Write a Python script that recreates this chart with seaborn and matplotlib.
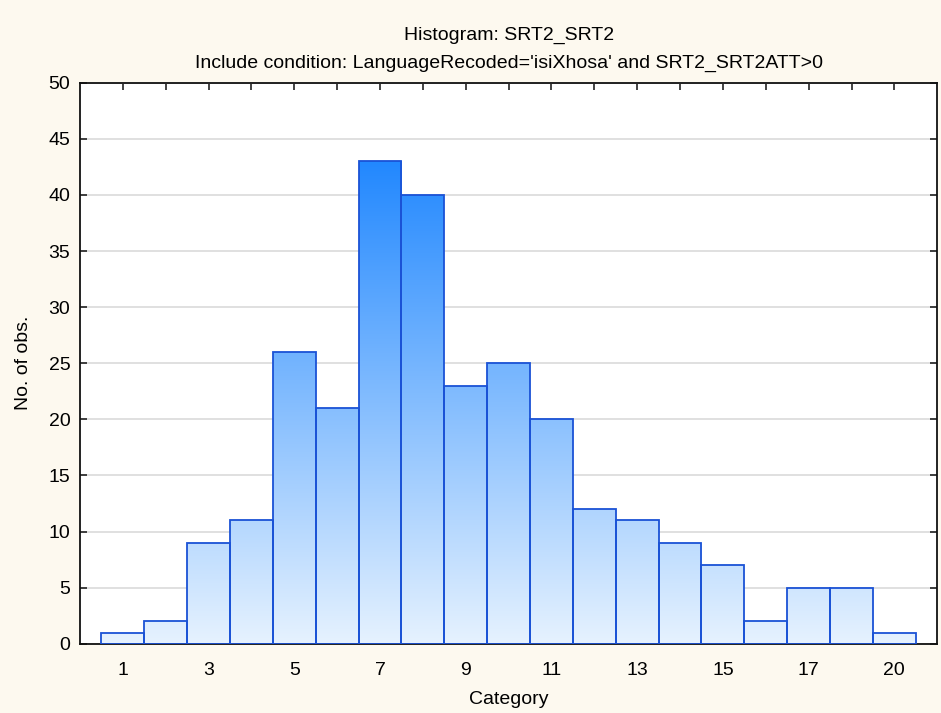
# histogram SRT2_SRT2 (isiXhosa), style Statistica
import numpy as np
import pandas as pd
import matplotlib
matplotlib.use("Agg")
import matplotlib.pyplot as plt
from matplotlib.colors import LinearSegmentedColormap
import seaborn as sns

categories = ["1", "2", "3", "4", "5", "6", "7", "8", "9", "10",
              "11", "12", "13", "14", "15", "16", "17", "18", "20"]
counts = [1, 2, 9, 11, 26, 21, 43, 40, 23, 25, 20, 12, 11, 9, 7, 2, 5, 5, 1]
tick_labels = ["1", "", "3", "", "5", "", "7", "", "9", "", "11", "",
               "13", "", "15", "", "17", "", "20"]

df = pd.DataFrame({"category": categories, "count": counts})

sns.set_style("white")
plt.rcParams['font.family'] = ['Liberation Sans', 'DejaVu Sans']
plt.rcParams['text.color'] = 'black'
plt.rcParams['axes.labelcolor'] = 'black'
plt.rcParams['xtick.color'] = 'black'
plt.rcParams['ytick.color'] = 'black'

bg = "#fdf9ef"
fig = plt.figure(figsize=(9.41, 7.13), dpi=100, facecolor=bg)
ax = fig.add_axes([0.085, 0.097, 0.911, 0.787])
ax.set_facecolor("white")

sns.barplot(data=df, x="category", y="count", order=categories,
            width=1.0, color="#ffffff", edgecolor="#1a52d6", linewidth=1.3,
            ax=ax, zorder=3)

# gradient de couleur (clair en bas, bleu vif en haut)
cmap = LinearSegmentedColormap.from_list("stat", ["#e6f2fe", "#2288ff"])
ymax = max(counts)
grad = np.linspace(0, 1, 256).reshape(-1, 1)
for p in ax.patches:
    p.set_facecolor("none")
    img = ax.imshow(grad, cmap=cmap, origin="lower", aspect="auto",
                    extent=[-1, 19, 0, ymax], zorder=2)
    img.set_clip_path(p)

ax.set_xlim(-1, 19)
ax.set_ylim(0, 50)
ax.set_yticks(range(0, 51, 5))
ax.set_xticks(range(len(categories)))
ax.set_xticklabels(tick_labels)

ax.yaxis.grid(True, color="#e0e0e0", linewidth=1.4, zorder=0)
ax.set_axisbelow(True)
ax.tick_params(direction="in", length=5, width=1.2, color="#222222",
               labelsize=14, top=True, right=True, bottom=True, left=True,
               pad=7)
ax.tick_params(axis="x", pad=13)
for s in ax.spines.values():
    s.set_color("#111111")
    s.set_linewidth(1.3)

ax.set_xlabel("Category", fontsize=14, labelpad=9)
ax.set_ylabel("No. of obs.", fontsize=14, labelpad=12)
ax.set_title("Histogram: SRT2_SRT2\nInclude condition: LanguageRecoded='isiXhosa' and SRT2_SRT2ATT>0",
             fontsize=14, linespacing=1.78, pad=11)

fig.savefig("out.png", dpi=100, facecolor=bg)
